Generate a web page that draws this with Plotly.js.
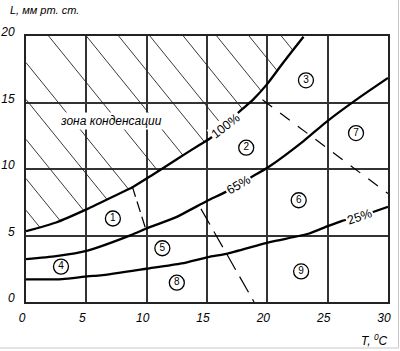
<!DOCTYPE html>
<html><head><meta charset="utf-8">
<script src="https://cdn.plot.ly/plotly-3.0.1.min.js"></script>
<style>html,body{margin:0;padding:0;background:#fff}#chart{width:400px;height:351px}</style>
</head><body><div id="chart"></div>
<script>
// ---- data ----
const xTicks = [0, 5, 10, 15, 20, 25, 30];
const yTicks = [0, 5, 10, 15, 20];

// relative humidity curves (T, °C  ->  L, mm Hg)
const x100 = [0, 2.5, 5.1, 7.5, 8.9, 10.5, 12.5, 14.4, 15.3, 16.5, 17.6, 18.8, 20.0, 21.4, 23.0];
const y100 = [5.32, 5.98, 7.0, 8.05, 8.67, 9.57, 10.73, 11.83, 12.33, 13.2, 14.25, 15.2, 16.4, 18.1, 19.95];

const x65 = [0, 2.5, 5.1, 8.7, 10.1, 12.4, 15.0, 16.6, 18.6, 20.1, 23.0, 24.9, 27.35, 30];
const y65 = [3.22, 3.45, 3.87, 5.03, 5.57, 6.36, 7.6, 8.3, 9.35, 10.15, 12.1, 13.55, 15.2, 16.85];

const x25 = [0, 3, 5.1, 6.2, 10, 12.9, 15.1, 16.6, 20.2, 23.4, 25, 26.2, 27.6, 28.7, 30];
const y25 = [1.7, 1.72, 1.93, 2.0, 2.5, 2.9, 3.38, 3.62, 4.5, 5.13, 5.7, 6.1, 6.42, 6.75, 7.15];

// dashed zone boundaries
const dashAx = [8.8, 9.9],   dashAy = [8.7, 5.55];
const dashBx = [14.5, 18.9], dashBy = [7.0, 0];
const dashCx = [19.6, 30],   dashCy = [15.2, 8.15];

// hatch lines of the condensation zone: y = c - k*x
const hatchC = [6.9, 9.28, 12.23, 15.23, 18.0, 22.1, 25.6, 28.6, 31.5, 34.6, 37.7, 40.7, 43.7];
const hatchK = 1.12;

// circled zone numbers
const zoneLabels = ['1', '2', '3', '4', '5', '6', '7', '8', '9'];
const zoneX = [7.2, 18.25, 23.2, 2.9, 11.3, 22.6, 27.35, 12.5, 22.8];
const zoneY = [6.28, 11.6, 16.67, 2.66, 4.04, 7.65, 12.7, 1.45, 2.3];

// curve labels
const curveNames = ['100%', '65%', '25%'];
const curveLabelX = [16.57, 17.6, 27.6];
const curveLabelY = [13.2, 8.8, 6.42];
const curveLabelAngle = [-38, -30, -19];

// ---- build hatch from the 100% curve ----
function curveAt(xs, ys, x) {
  if (x <= xs[0]) return ys[0];
  for (let i = 1; i < xs.length; i++) {
    if (x <= xs[i]) {
      const t = (x - xs[i - 1]) / (xs[i] - xs[i - 1]);
      return ys[i - 1] + t * (ys[i] - ys[i - 1]);
    }
  }
  return ys[ys.length - 1];
}
const hx = [], hy = [];
hatchC.forEach(c => {
  let xs, ys;
  if (c <= 20) { xs = 0; ys = c; } else { xs = (c - 20) / hatchK; ys = 20; }
  let lo = xs, hi = x100[x100.length - 1];
  for (let i = 0; i < 60; i++) {
    const m = (lo + hi) / 2;
    if (c - hatchK * m - curveAt(x100, y100, m) > 0) lo = m; else hi = m;
  }
  hx.push(xs, lo, null);
  hy.push(ys, c - hatchK * lo, null);
});

const FONT = 'Liberation Sans, Arial, sans-serif';

const traces = [
  {x: hx, y: hy, mode: 'lines', line: {color: '#222', width: 0.9}, hoverinfo: 'skip'},
  {x: dashAx, y: dashAy, mode: 'lines', line: {color: '#000', width: 1.2, dash: '11px,5px'}},
  {x: dashBx, y: dashBy, mode: 'lines', line: {color: '#000', width: 1.2, dash: '18px,8px'}},
  {x: dashCx, y: dashCy, mode: 'lines', line: {color: '#000', width: 1.2, dash: '12px,10px'}},
  {x: x100, y: y100, mode: 'lines', line: {color: '#000', width: 2.3, shape: 'spline', smoothing: 0.6}},
  {x: x65, y: y65, mode: 'lines', line: {color: '#000', width: 2.3, shape: 'spline', smoothing: 0.6}},
  {x: x25, y: y25, mode: 'lines', line: {color: '#000', width: 2.3, shape: 'spline', smoothing: 0.6}},
  {x: zoneX, y: zoneY, text: zoneLabels, mode: 'markers+text', textposition: 'middle center',
   marker: {symbol: 'circle', size: 15, color: '#fff', line: {color: '#000', width: 1.3}},
   textfont: {family: FONT, size: 10, color: '#000'}}
];

const annotations = curveNames.map((t, i) => ({
  x: curveLabelX[i], y: curveLabelY[i], xref: 'x', yref: 'y', text: t, showarrow: false,
  textangle: curveLabelAngle[i], bgcolor: '#fff', borderpad: 1,
  font: {family: FONT, size: 12.5, color: '#000'}
}));
annotations.push({
  x: 7.06, y: 13.64, xref: 'x', yref: 'y', text: 'зона конденсации', showarrow: false,
  bgcolor: '#fff', borderpad: 1, font: {family: FONT, size: 12, color: '#000', style: 'italic'}
});
annotations.push({
  x: -0.0497, y: 1.0996, xref: 'paper', yref: 'paper', xanchor: 'left', yanchor: 'middle',
  text: 'L, мм рт. ст.', showarrow: false, font: {family: FONT, size: 11, color: '#000', style: 'italic'}
});
annotations.push({
  x: 1.0055, y: -0.143, xref: 'paper', yref: 'paper', xanchor: 'right', yanchor: 'middle',
  text: 'T, <sup>0</sup>C', showarrow: false, font: {family: FONT, size: 12, color: '#000', style: 'italic'}
});

const axisCommon = {
  showgrid: true, gridcolor: '#333', gridwidth: 2, zeroline: false,
  showline: true, mirror: true, linecolor: '#222', linewidth: 2, ticks: '',
  tickfont: {family: FONT, size: 12, color: '#000', style: 'italic'}
};

const layout = {
  width: 400, height: 351,
  margin: {l: 26, r: 12, t: 36, b: 49},
  paper_bgcolor: '#fff', plot_bgcolor: '#fff',
  showlegend: false,
  xaxis: Object.assign({}, axisCommon, {range: [0, 30], tickvals: xTicks, ticklabelstandoff: 4, ticklabelshift: -4}),
  yaxis: Object.assign({}, axisCommon, {range: [0, 20], tickvals: yTicks, ticklabelstandoff: 7, ticklabelshift: -4}),
  annotations: annotations,
  shapes: [
    {type: 'line', xref: 'paper', yref: 'paper', x0: 1.029, x1: 1.029, y0: 1.135, y1: -0.173, line: {color: '#c8c8c8', width: 1}},
    {type: 'line', xref: 'paper', yref: 'paper', x0: -0.0718, x1: 1.029, y0: -0.173, y1: -0.173, line: {color: '#c8c8c8', width: 1}}
  ]
};

Plotly.newPlot('chart', traces, layout, {staticPlot: true, displayModeBar: false});
</script>
</body></html>
